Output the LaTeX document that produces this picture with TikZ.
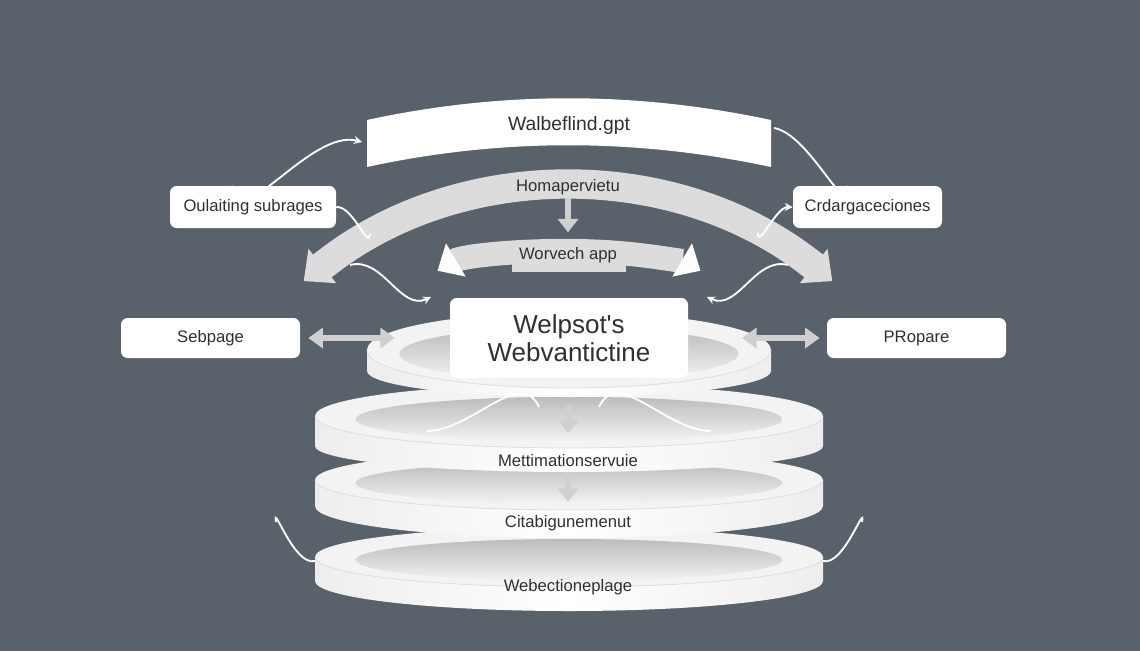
\documentclass[tikz,border=0pt]{standalone}
\usepackage{fontspec}
\setmainfont{Liberation Sans}
\usetikzlibrary{arrows.meta,positioning,calc}
\definecolor{cSlate}{RGB}{89,97,106}
\definecolor{cBand}{RGB}{220,220,220}
\definecolor{cArrow}{RGB}{208,208,208}
\definecolor{cRim}{RGB}{243,243,243}
\definecolor{cWell}{RGB}{188,188,188}
\definecolor{cInk}{RGB}{48,48,48}
\tikzset{
  basebox/.style={rectangle,rounded corners=5pt,fill=white,text=cInk,
                  align=center,font=\fontsize{12.5}{15}\selectfont},
  sidebox/.style={basebox,minimum height=31.5pt},
  plainlbl/.style={text=cInk,inner sep=2pt,font=\fontsize{12.5}{15}\selectfont},
  thinarr/.style={-{Stealth[length=6pt,width=6pt]},line width=1.4pt,draw=white},
  thinline/.style={line width=1.4pt,draw=white},
  dblarr/.style={{Triangle[length=11pt,width=15pt]}-{Triangle[length=11pt,width=15pt]},
                 line width=4pt,draw=cArrow},
  downarr/.style={-{Triangle[length=10pt,width=15pt]},line width=5pt,draw=cArrow},
  bigband/.style={{Triangle[length=18pt,width=32pt]}-{Triangle[length=18pt,width=32pt]},
                  line width=22pt,draw=cBand},
  smallband/.style={{Triangle[length=16pt,width=28pt,color=white!96!cBand]}-{Triangle[length=16pt,width=28pt,color=white!96!cBand]},
                    line width=18pt,draw=cBand}
}

\begin{document}
\begin{tikzpicture}[x=0.75pt,y=-0.75pt]
  \useasboundingbox (0,0) rectangle (1140,651);
  \fill[cSlate] (0,0) rectangle (1140,651);

  % stacked platters, bottom one first
  \foreach \cy/\rx/\ryt/\thk/\ryb in {557/254/30/24/30, 480/254/30/26/32,
                                      416/254/32/30/26, 350/202/38/21/26}{
    \path[left color=gray!14,right color=gray!14,middle color=white]
      (569-\rx,\cy) -- ++(0,\thk)
      arc[start angle=180,end angle=0,x radius=\rx,y radius=\ryb]
      -- (569+\rx,\cy)
      arc[start angle=0,end angle=180,x radius=\rx,y radius=\ryt] -- cycle;
    \fill[cRim] (569,\cy) ellipse [x radius=\rx,y radius=\ryt];
    \shade[top color=cWell,bottom color=cRim]
      (569,\cy+0.1*\ryt) ellipse [x radius=0.84*\rx,y radius=0.7*\ryt];
    \draw[gray!25,line width=0.6pt] (569-\rx,\cy)
      arc[start angle=180,end angle=0,x radius=\rx,y radius=\ryt];
  }

  \coordinate (cWellL1) at (539,407);
  \coordinate (cWellL2) at (427,431);
  \coordinate (cWellR1) at (599,407);
  \coordinate (cWellR2) at (711,431);
  \draw[thinline] (cWellL1) to[out=115,in=0] (cWellL2);
  \draw[thinline] (cWellR1) to[out=65,in=180] (cWellR2);

  % arcs
  \coordinate (bigC) at (568,607.5);
  \draw[bigband] (bigC) ++(-129:420) arc[start angle=-129,end angle=-51,radius=420];
  \fill[cBand] (512,258) rectangle (626,272);
  \draw[smallband] (569,281) ++({140*cos(-160)},{30*sin(-160)})
    arc[start angle=-160,end angle=-20,x radius=140,y radius=30];

  % banner
  \fill[white] (367,120) .. controls (501,91) and (635,91) .. (771,120)
    -- (771,167) .. controls (635,138) and (501,138) .. (367,167) -- cycle;
  \node[plainlbl,font=\fontsize{14.5}{17}\selectfont] (wal) at (569,125) {Walbeflind.gpt};
  \coordinate (bnl) at (362,142);
  \coordinate (bnr) at (774,128);

  \node[sidebox,minimum width=124.5pt] (oul) at (253,207) {Oulaiting subrages};
  \node[sidebox,minimum width=111.75pt] (crd) at (867.5,207) {Crdargaceciones};
  \node[sidebox,minimum width=134.25pt,minimum height=30pt] (seb) at (210.5,338) {Sebpage};
  \node[sidebox,minimum width=134.25pt,minimum height=30pt] (pro) at (916.5,338) {PRopare};
  \node[basebox,minimum width=178.5pt,minimum height=60pt,
        font=\fontsize{19.5}{21}\selectfont] (core) at (569,338)
        {Welpsot\textquotesingle s\\Webvantictine};

  \coordinate (cOulEnd) at (370,234);
  \coordinate (cCrdStart) at (758,233);
  \coordinate (cLeftTail) at (350,265);
  \coordinate (cLeftTip) at (431,297);
  \coordinate (cRightTail) at (788,265);
  \coordinate (cRightTip) at (707,297);
  \coordinate (cDiskL) at (395,338);
  \coordinate (cDiskR) at (742,338);
  \coordinate (cSideL1) at (276,522);
  \coordinate (cSideL2) at (315,561);
  \coordinate (cSideR1) at (862,522);
  \coordinate (cSideR2) at (823,561);

  \draw[thinarr] ($(oul.north)+(-21,0)$) to[out=-85,in=165] (bnl);
  \draw[thinline] (bnr) to[out=-10,in=-90] ($(crd.north)+(-20,0)$);
  \draw[thinline] (oul.east) to[out=5,in=-95] (cOulEnd);
  \draw[thinarr] (cCrdStart) to[out=-90,in=180] (crd.west);
  \draw[thinarr] (cLeftTail) to[out=15,in=-155] (cLeftTip);
  \draw[thinarr] (cRightTail) to[out=165,in=-25] (cRightTip);
  \draw[thinline] (cSideL1) to[out=100,in=195] (cSideL2);
  \draw[thinline] (cSideR1) to[out=80,in=-15] (cSideR2);

  \draw[dblarr] ($(seb.east)+(8,0)$) -- (cDiskL);
  \draw[dblarr] (cDiskR) -- ($(pro.west)+(-7,0)$);

  \node[plainlbl] (hom) at (568,187) {Homapervietu};
  \node[plainlbl] (wor) at (568,255) {Worvech app};
  \node[plainlbl] (met) at (568,461) {Mettimationservuie};
  \node[plainlbl] (cit) at (568,523) {Citabigunemenut};
  \node[plainlbl] (web) at (568,587) {Webectioneplage};

  \draw[downarr] (hom.south) -- ([yshift=9pt]wor.north);
  \draw[downarr] ([yshift=-20pt]core.south) -- ([yshift=14pt]met.north);
  \draw[downarr] ([yshift=-3pt]met.south) -- ([yshift=8pt]cit.north);
\end{tikzpicture}
\end{document}
